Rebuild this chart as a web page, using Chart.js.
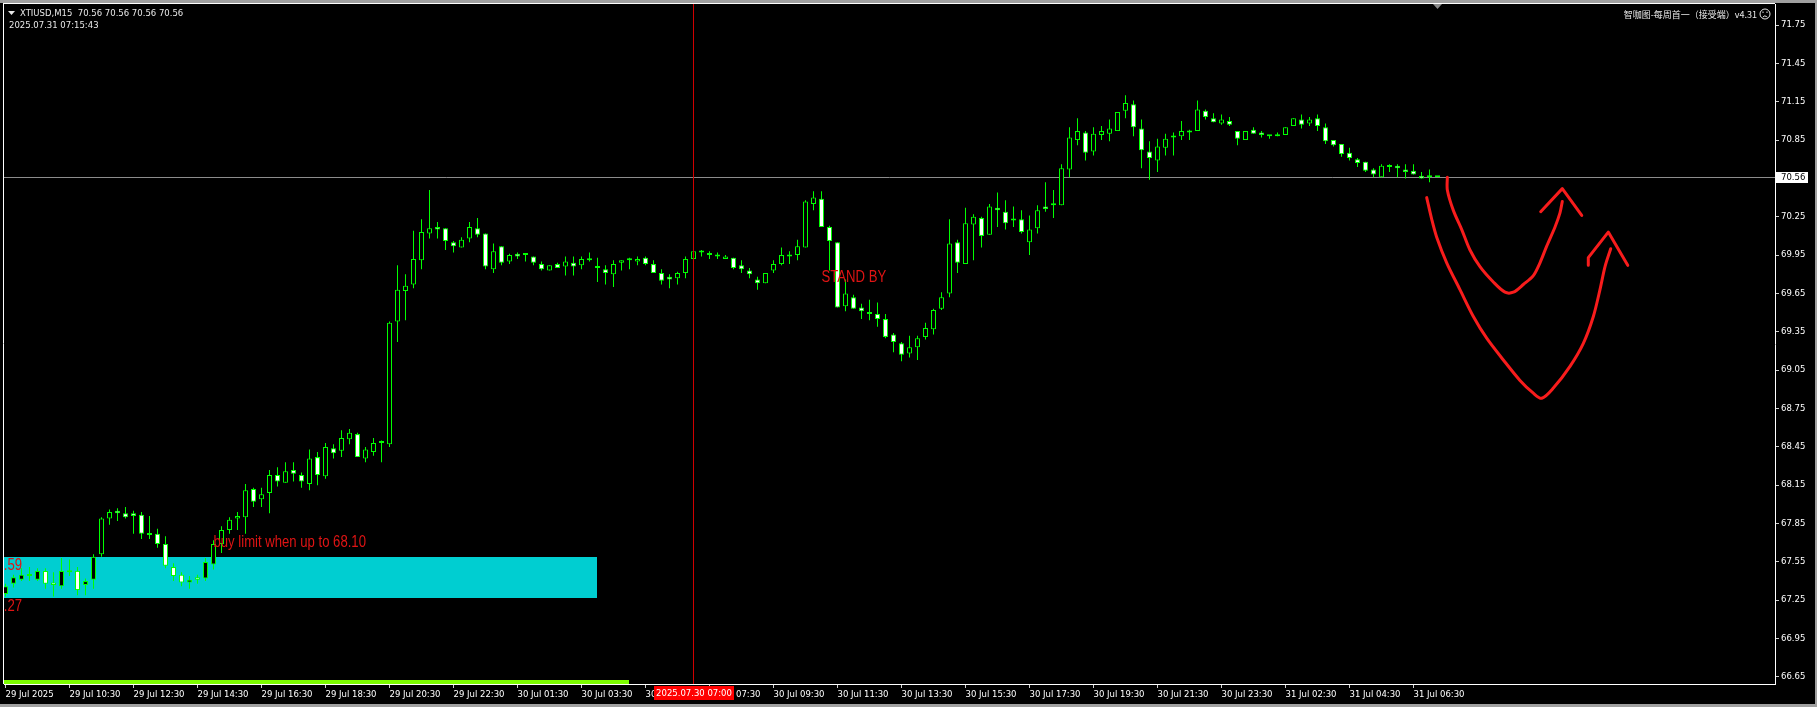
<!DOCTYPE html>
<html>
<head>
<meta charset="utf-8">
<script src="https://cdn.jsdelivr.net/npm/chart.js@4.4.1/dist/chart.umd.min.js"></script>
<style>
  html, body { margin: 0; padding: 0; background: #000; }
  canvas { display: block; }
</style>
</head>
<body>
<canvas id="grafico" width="1817" height="707"></canvas>
<script>
/* ======================================================
   DADOS (XTIUSD M15, uma barra por indice)
====================================================== */
const abertura = [
  67.30, 67.38, 67.41, 67.44, 67.41, 67.48, 67.39, 67.36, 67.48, 67.48,
  67.37, 67.41, 67.61, 67.89, 67.95, 67.93, 67.93, 67.92, 67.77, 67.77,
  67.69, 67.51, 67.45, 67.39, 67.43, 67.42, 67.53, 67.69, 67.80, 67.89,
  67.90, 68.12, 68.04, 68.09, 68.23, 68.17, 68.27, 68.23, 68.16, 68.37,
  68.22, 68.44, 68.42, 68.51, 68.55, 68.36, 68.41, 68.48, 68.47, 69.43,
  69.67, 69.72, 69.91, 70.12, 70.17, 70.16, 70.05, 70.01, 70.08, 70.16,
  70.12, 69.84, 70.02, 69.90, 69.96, 69.95, 69.94, 69.88, 69.83, 69.88,
  69.86, 69.89, 69.87, 69.91, 69.86, 69.84, 69.80, 69.89, 69.91, 69.90,
  69.93, 69.88, 69.81, 69.78, 69.77, 69.81, 69.92, 69.97, 69.96, 69.94,
  69.92, 69.93, 69.87, 69.83, 69.76, 69.73, 69.83, 69.88, 69.94, 69.95,
  70.01, 70.35, 70.39, 70.17, 70.05, 69.55, 69.62, 69.54, 69.49, 69.49,
  69.45, 69.33, 69.26, 69.18, 69.23, 69.31, 69.37, 69.53, 69.65, 70.05,
  69.88, 70.19, 70.24, 70.11, 70.32, 70.29, 70.22, 70.23, 70.05, 70.16,
  70.33, 70.35, 70.34, 70.62, 70.85, 70.91, 70.76, 70.89, 70.90, 70.92,
  71.08, 71.13, 70.94, 70.76, 70.69, 70.79, 70.87, 70.88, 70.91, 70.92,
  71.08, 71.02, 70.98, 71.00, 70.92, 70.85, 70.93, 70.91, 70.88, 70.88,
  70.89, 70.96, 71.01, 70.98, 71.02, 70.95, 70.85, 70.82, 70.75, 70.70,
  70.68, 70.62, 70.56, 70.64, 70.65, 70.62, 70.61, 70.57, 70.56, 70.56
];
const maxima = [
  67.38, 67.45, 67.50, 67.51, 67.50, 67.50, 67.47, 67.58, 67.57, 67.51,
  67.42, 67.61, 67.90, 67.96, 67.97, 67.98, 67.95, 67.94, 67.91, 67.81,
  67.75, 67.54, 67.47, 67.44, 67.45, 67.58, 67.72, 67.83, 67.90, 67.94,
  68.16, 68.13, 68.13, 68.27, 68.29, 68.33, 68.33, 68.25, 68.43, 68.41,
  68.48, 68.47, 68.58, 68.59, 68.56, 68.45, 68.52, 68.50, 69.43, 69.87,
  69.80, 70.14, 70.23, 70.46, 70.21, 70.16, 70.06, 70.09, 70.21, 70.24,
  70.12, 70.04, 70.02, 69.96, 69.97, 69.96, 69.94, 69.90, 69.87, 69.89,
  69.94, 69.94, 69.94, 69.97, 69.93, 69.87, 69.91, 69.91, 69.93, 69.94,
  69.94, 69.91, 69.84, 69.80, 69.82, 69.94, 69.99, 69.99, 69.98, 69.97,
  69.95, 69.93, 69.91, 69.85, 69.78, 69.81, 69.91, 70.01, 69.98, 70.07,
  70.38, 70.45, 70.45, 70.18, 70.05, 69.76, 69.64, 69.57, 69.60, 69.58,
  69.49, 69.34, 69.27, 69.32, 69.32, 69.42, 69.53, 69.66, 70.23, 70.07,
  70.32, 70.27, 70.25, 70.35, 70.44, 70.38, 70.33, 70.30, 70.26, 70.34,
  70.52, 70.46, 70.66, 70.95, 71.02, 70.92, 70.95, 70.96, 71.01, 71.07,
  71.20, 71.16, 71.01, 70.84, 70.86, 70.90, 70.91, 71.00, 70.93, 71.16,
  71.09, 71.06, 71.05, 71.03, 70.92, 70.92, 70.95, 70.92, 70.89, 70.91,
  70.95, 71.02, 71.05, 71.03, 71.05, 70.98, 70.85, 70.82, 70.79, 70.71,
  70.68, 70.63, 70.66, 70.66, 70.66, 70.66, 70.66, 70.60, 70.62, 70.56
];
const minima = [
  67.28, 67.35, 67.40, 67.40, 67.40, 67.34, 67.28, 67.34, 67.44, 67.29,
  67.29, 67.34, 67.59, 67.84, 67.87, 67.89, 67.77, 67.73, 67.73, 67.66,
  67.50, 67.40, 67.36, 67.34, 67.38, 67.40, 67.49, 67.62, 67.77, 67.80,
  67.77, 67.98, 67.98, 67.93, 68.14, 68.17, 68.18, 68.13, 68.11, 68.15,
  68.20, 68.36, 68.37, 68.47, 68.37, 68.33, 68.38, 68.33, 68.45, 69.27,
  69.44, 69.69, 69.84, 70.08, 70.08, 69.99, 69.97, 70.01, 70.05, 70.09,
  69.84, 69.81, 69.87, 69.88, 69.92, 69.90, 69.87, 69.83, 69.83, 69.85,
  69.79, 69.79, 69.84, 69.90, 69.74, 69.72, 69.70, 69.83, 69.84, 69.87,
  69.87, 69.81, 69.72, 69.69, 69.72, 69.77, 69.92, 69.94, 69.92, 69.92,
  69.92, 69.84, 69.81, 69.77, 69.68, 69.73, 69.81, 69.87, 69.88, 69.91,
  70.01, 70.30, 70.17, 69.83, 69.54, 69.51, 69.53, 69.45, 69.44, 69.39,
  69.30, 69.19, 69.12, 69.15, 69.13, 69.29, 69.33, 69.52, 69.62, 69.81,
  69.88, 69.91, 70.01, 70.11, 70.17, 70.15, 70.17, 70.12, 69.95, 70.12,
  70.29, 70.24, 70.34, 70.56, 70.81, 70.69, 70.73, 70.85, 70.84, 70.92,
  71.02, 70.88, 70.63, 70.54, 70.60, 70.73, 70.73, 70.85, 70.85, 70.92,
  71.01, 70.99, 70.97, 70.96, 70.81, 70.85, 70.90, 70.87, 70.86, 70.88,
  70.89, 70.96, 70.94, 70.96, 70.92, 70.82, 70.80, 70.72, 70.69, 70.64,
  70.60, 70.56, 70.56, 70.60, 70.56, 70.55, 70.58, 70.55, 70.52, 70.56
];
const fechamento = [
  67.36, 67.43, 67.45, 67.44, 67.48, 67.38, 67.37, 67.48, 67.47, 67.33,
  67.40, 67.59, 67.89, 67.94, 67.93, 67.90, 67.91, 67.77, 67.76, 67.69,
  67.52, 67.44, 67.39, 67.41, 67.41, 67.55, 67.69, 67.80, 67.88, 67.91,
  68.11, 68.02, 68.08, 68.23, 68.18, 68.26, 68.24, 68.18, 68.36, 68.23,
  68.45, 68.40, 68.52, 68.56, 68.37, 68.43, 68.48, 68.48, 69.42, 69.68,
  69.71, 69.92, 70.13, 70.16, 70.15, 70.06, 70.02, 70.07, 70.17, 70.11,
  69.86, 69.98, 69.89, 69.95, 69.94, 69.95, 69.89, 69.84, 69.87, 69.85,
  69.90, 69.86, 69.92, 69.91, 69.85, 69.81, 69.88, 69.91, 69.91, 69.92,
  69.88, 69.81, 69.75, 69.76, 69.81, 69.92, 69.98, 69.97, 69.95, 69.94,
  69.94, 69.85, 69.84, 69.80, 69.73, 69.81, 69.88, 69.95, 69.94, 70.02,
  70.37, 70.40, 70.17, 70.06, 69.54, 69.65, 69.53, 69.51, 69.49, 69.45,
  69.31, 69.27, 69.17, 69.23, 69.30, 69.38, 69.52, 69.62, 70.04, 69.89,
  70.20, 70.25, 70.10, 70.33, 70.30, 70.20, 70.22, 70.13, 70.15, 70.30,
  70.31, 70.34, 70.63, 70.87, 70.92, 70.75, 70.90, 70.92, 70.94, 71.07,
  71.14, 70.95, 70.77, 70.71, 70.80, 70.86, 70.87, 70.92, 70.92, 71.09,
  71.03, 70.99, 71.01, 70.97, 70.86, 70.92, 70.90, 70.89, 70.88, 70.88,
  70.95, 71.02, 70.97, 71.01, 70.96, 70.84, 70.81, 70.74, 70.71, 70.67,
  70.61, 70.58, 70.65, 70.64, 70.63, 70.60, 70.58, 70.55, 70.56, 70.56
];

// eixo do tempo: barra onde cada rotulo aparece
const rotulosBarras = [0, 8, 16, 24, 32, 40, 48, 56, 64, 72, 80, 88, 96, 104, 112,
  120, 128, 136, 144, 152, 160, 168, 176];
const rotulosTempo = ["29 Jul 2025", "29 Jul 10:30", "29 Jul 12:30", "29 Jul 14:30",
  "29 Jul 16:30", "29 Jul 18:30", "29 Jul 20:30", "29 Jul 22:30", "30 Jul 01:30",
  "30 Jul 03:30", "30 Jul 05:30", "30 Jul 07:30", "30 Jul 09:30", "30 Jul 11:30",
  "30 Jul 13:30", "30 Jul 15:30", "30 Jul 17:30", "30 Jul 19:30", "30 Jul 21:30",
  "30 Jul 23:30", "31 Jul 02:30", "31 Jul 04:30", "31 Jul 06:30"];

// eixo de preco
const ticksPreco = [66.65, 66.95, 67.25, 67.55, 67.85, 68.15, 68.45, 68.75, 69.05,
  69.35, 69.65, 69.95, 70.25, 70.85, 71.15, 71.45, 71.75];
const ultimoPreco = 70.56;

// zona azul e cursor
const zonaTopo = 67.59;
const zonaBase = 67.27;
const zonaFimBarra = 73.9;
const barraVerdeFim = 77.9;
const barraCursor = 86;
const rotuloCursor = "2025.07.30 07:00";

// desenhos a mao (barra, preco)
const curvaInterna = [[180.23, 70.56], [180.23, 70.46], [180.98, 70.30], [182.03, 70.15],
  [183.06, 69.99], [184.31, 69.86], [185.98, 69.74], [187.44, 69.66], [188.48, 69.66],
  [189.73, 69.72], [190.98, 69.79], [191.81, 69.89], [192.65, 70.02], [193.69, 70.17],
  [194.31, 70.28], [194.6, 70.37]];
const setaInterna = [[191.9, 70.29], [194.6, 70.47], [197.03, 70.26]];
const curvaExterna = [[177.65, 70.40], [178.28, 70.23], [178.9, 70.09], [180.15, 69.89],
  [181.81, 69.68], [183.48, 69.47], [185.15, 69.30], [187.23, 69.13], [189.31, 68.97],
  [190.98, 68.87], [192.03, 68.83], [193.48, 68.91], [195.56, 69.08], [197.23, 69.26],
  [198.48, 69.47], [199.31, 69.68], [199.94, 69.86], [200.65, 70.00]];
const setaExterna = [[197.85, 69.87], [197.85, 69.93], [200.35, 70.13], [202.78, 69.87]];

// textos no grafico (barra, preco da linha de base)
const textoCompra = { barra: 26, preco: 67.667, texto: "buy limit when up to 68.10" };
const textoEspera = { barra: 102, preco: 69.74, texto: "STAND BY" };

/* ======================================================
   CORES / FONTES
====================================================== */
const CORES = {
  vela: "#00ff00",
  alta: "#000000",
  baixa: "#ffffff",
  zona: "#00ced1",
  texto: "#e01414",
  desenho: "#f81c1c",
  cursor: "#d00000",
  linhaPreco: "#8c8c8c",
  eixo: "#ffffff",
  faixaVerde: "#7cfc00"
};
const FONTE_EIXO = { family: '"DejaVu Sans", Tahoma, sans-serif', size: 8.5 };
const FONTE_EIXO_CSS = '8.5px "DejaVu Sans", Tahoma, sans-serif';
const FONTE_TEXTO = '16px "Liberation Sans", Arial, sans-serif';
const ESTREITO = 0.82; // texto do MT4 sai estreito

/* ======================================================
   ESCALAS (8 px por barra, area de 4 a 1775 / 4 a 684)
====================================================== */
const xMin = -0.1875, xMax = 221.1875;
const precoMin = 66.5952, precoMax = 71.9143;

/* ======================================================
   DATASETS
====================================================== */
const pavios = abertura.map((o, i) => ({ x: i, y: [minima[i], maxima[i]] }));
const corpos = abertura.map((o, i) => ({ x: i, y: [o, fechamento[i]] }));
const corCorpo = abertura.map((o, i) =>
  fechamento[i] > o ? CORES.alta : (fechamento[i] < o ? CORES.baixa : CORES.vela));

function linhaDesenho(pontos, tensao) {
  return {
    type: "line",
    data: pontos.map(p => ({ x: p[0], y: p[1] })),
    borderColor: CORES.desenho,
    borderWidth: 3,
    pointRadius: 0,
    tension: tensao,
    borderCapStyle: "round",
    borderJoinStyle: "round",
    order: 0
  };
}

function textoEstreito(c, texto, x, y, alinhar) {
  c.save();
  c.translate(x, y);
  c.scale(ESTREITO, 1);
  c.textAlign = alinhar;
  c.fillText(texto, 0, 0);
  c.restore();
}

/* ======================================================
   PLUGIN: fundo, zona, textos, cursor
====================================================== */
const cenario = {
  id: "cenario",
  beforeDraw(chart) {
    const c = chart.ctx;
    c.save();
    c.fillStyle = "#000";
    c.fillRect(0, 0, chart.width, chart.height);
    c.restore();
  },
  beforeDatasetsDraw(chart) {
    const c = chart.ctx, a = chart.chartArea;
    const x = chart.scales.x, y = chart.scales.y;
    c.save();
    c.beginPath();
    c.rect(a.left, a.top, a.right - a.left, a.bottom - a.top);
    c.clip();
    // zona
    c.fillStyle = CORES.zona;
    const zt = Math.round(y.getPixelForValue(zonaTopo));
    const zb = Math.round(y.getPixelForValue(zonaBase));
    c.fillRect(a.left, zt, Math.round(x.getPixelForValue(zonaFimBarra)) - a.left, zb - zt);
    // linha do preco
    const yp = Math.round(y.getPixelForValue(ultimoPreco)) + 0.5;
    c.strokeStyle = CORES.linhaPreco;
    c.lineWidth = 1;
    c.beginPath();
    c.moveTo(a.left, yp);
    c.lineTo(a.right, yp);
    c.stroke();
    // faixa verde no rodape
    c.fillStyle = CORES.faixaVerde;
    c.fillRect(a.left, a.bottom - 4, Math.round(x.getPixelForValue(barraVerdeFim)) - a.left, 4);
    c.restore();
  },
  afterDatasetsDraw(chart) {
    const c = chart.ctx, a = chart.chartArea;
    const x = chart.scales.x, y = chart.scales.y;
    c.save();
    c.beginPath();
    c.rect(a.left, a.top, a.right - a.left, a.bottom - a.top);
    c.clip();
    // cursor vertical
    const xc = Math.round(x.getPixelForValue(barraCursor)) - 0.5;
    c.strokeStyle = CORES.cursor;
    c.lineWidth = 1;
    c.beginPath();
    c.moveTo(xc, a.top);
    c.lineTo(xc, a.bottom);
    c.stroke();
    // textos
    c.fillStyle = CORES.texto;
    c.font = FONTE_TEXTO;
    c.textBaseline = "alphabetic";
    [textoCompra, textoEspera].forEach(t => {
      textoEstreito(c, t.texto, x.getPixelForValue(t.barra), y.getPixelForValue(t.preco), "left");
    });
    // precos da zona (cortados na borda)
    textoEstreito(c, zonaTopo.toFixed(2), 22, y.getPixelForValue(zonaTopo) + 13, "right");
    textoEstreito(c, zonaBase.toFixed(2), 22, y.getPixelForValue(zonaBase) + 13, "right");
    c.restore();
  },
  afterDraw(chart) {
    const c = chart.ctx, a = chart.chartArea;
    const x = chart.scales.x, y = chart.scales.y;
    c.save();
    // moldura
    c.fillStyle = "#a0a0a0";
    c.fillRect(0, 0, chart.width, 3);
    c.strokeStyle = "#ffffff";
    c.lineWidth = 1;
    c.beginPath();
    c.moveTo(3.5, 3);
    c.lineTo(3.5, a.bottom);
    c.moveTo(3, 3.5);
    c.lineTo(a.right, 3.5);
    c.stroke();
    // marcador de deslocamento
    const xs = x.getPixelForValue(abertura.length - 1);
    c.fillStyle = "#8a8a8a";
    c.beginPath();
    c.moveTo(xs - 4.5, 4);
    c.lineTo(xs + 4.5, 4);
    c.lineTo(xs, 9);
    c.closePath();
    c.fill();
    // titulo
    c.fillStyle = "#e8e8e8";
    c.beginPath();
    c.moveTo(8, 11);
    c.lineTo(15, 11);
    c.lineTo(11.5, 15);
    c.closePath();
    c.fill();
    c.font = FONTE_EIXO_CSS;
    c.textAlign = "left";
    c.textBaseline = "alphabetic";
    const n = abertura.length - 1;
    c.fillText("XTIUSD,M15  " + [abertura[n], maxima[n], minima[n], fechamento[n]].map(v => v.toFixed(2)).join(" "), 20, 16);
    c.fillText("2025.07.31 07:15:43", 9, 28);
    c.textAlign = "right";
    c.font = '9px "Noto Sans CJK SC", sans-serif';
    c.fillText("智咖图-每周首一（接受端）v4.31", 1757, 18);
    // carinha
    c.strokeStyle = "#e8e8e8";
    c.beginPath();
    c.arc(1765, 14, 5, 0, Math.PI * 2);
    c.stroke();
    c.beginPath();
    c.arc(1765, 18.5, 2.5, Math.PI * 1.15, Math.PI * 1.85);
    c.stroke();
    c.fillRect(1762.5, 11.5, 1, 1.5);
    c.fillRect(1766.5, 11.5, 1, 1.5);
    // caixa do preco atual
    const yp = Math.round(y.getPixelForValue(ultimoPreco));
    c.fillStyle = "#ffffff";
    c.fillRect(a.right + 1, yp - 5, 32, 11);
    c.fillStyle = "#000000";
    c.font = FONTE_EIXO_CSS;
    c.textAlign = "left";
    c.textBaseline = "middle";
    c.fillText(ultimoPreco.toFixed(2), a.right + 6, yp + 0.5);
    // rotulo do cursor no eixo do tempo
    const xc = Math.round(x.getPixelForValue(barraCursor));
    c.fillStyle = "#ff0000";
    c.fillRect(xc - 40, a.bottom + 2, 80, 14);
    c.fillStyle = "#ffffff";
    c.textAlign = "center";
    c.fillText(rotuloCursor, xc, a.bottom + 9.5);
    // bordas da janela
    c.fillStyle = "#a0a0a0";
    c.fillRect(chart.width - 2, 0, 2, chart.height);
    c.fillRect(0, chart.height - 3, chart.width, 3);
    c.restore();
  }
};

/* ======================================================
   GRAFICO
====================================================== */
new Chart(document.getElementById("grafico"), {
  type: "bar",
  data: {
    datasets: [
      {
        label: "corpos",
        data: corpos,
        backgroundColor: corCorpo,
        borderColor: CORES.vela,
        borderWidth: 1,
        borderSkipped: false,
        barThickness: 5,
        minBarLength: 2,
        grouped: false,
        inflateAmount: 0,
        order: 1
      },
      {
        label: "pavios",
        data: pavios,
        backgroundColor: CORES.vela,
        borderWidth: 0,
        barThickness: 1,
        grouped: false,
        inflateAmount: 0,
        order: 2
      },
      linhaDesenho(curvaInterna, 0.3),
      linhaDesenho(setaInterna, 0),
      linhaDesenho(curvaExterna, 0.3),
      linhaDesenho(setaExterna, 0)
    ]
  },
  options: {
    responsive: false,
    animation: false,
    events: [],
    layout: { padding: { left: 4, top: 4, right: 0, bottom: 0 } },
    plugins: { legend: { display: false }, tooltip: { enabled: false } },
    scales: {
      x: {
        type: "linear",
        position: "bottom",
        min: xMin,
        max: xMax,
        offset: false,
        afterBuildTicks: s => { s.ticks = rotulosBarras.map(v => ({ value: v })); },
        afterFit: s => { s.height = 23; s.paddingLeft = 0; s.paddingRight = 0; },
        ticks: {
          autoSkip: false, maxRotation: 0, minRotation: 0, align: "start", padding: 2,
          color: CORES.eixo, font: FONTE_EIXO,
          callback: (v, i) => rotulosTempo[i]
        },
        grid: { display: true, offset: false, drawOnChartArea: false, drawTicks: true, tickLength: 4, color: "#d0d0d0" },
        border: { display: true, color: "#ffffff", width: 1 }
      },
      y: {
        type: "linear",
        position: "right",
        min: precoMin,
        max: precoMax,
        afterBuildTicks: s => { s.ticks = ticksPreco.map(v => ({ value: v })); },
        afterFit: s => { s.width = 42; s.paddingTop = 0; s.paddingBottom = 0; },
        ticks: {
          padding: 2, color: CORES.eixo, font: FONTE_EIXO,
          callback: v => v.toFixed(2)
        },
        grid: { display: true, drawOnChartArea: false, drawTicks: true, tickLength: 4, color: "#d0d0d0" },
        border: { display: true, color: "#ffffff", width: 1 }
      }
    }
  },
  plugins: [cenario]
});
</script>
</body>
</html>
